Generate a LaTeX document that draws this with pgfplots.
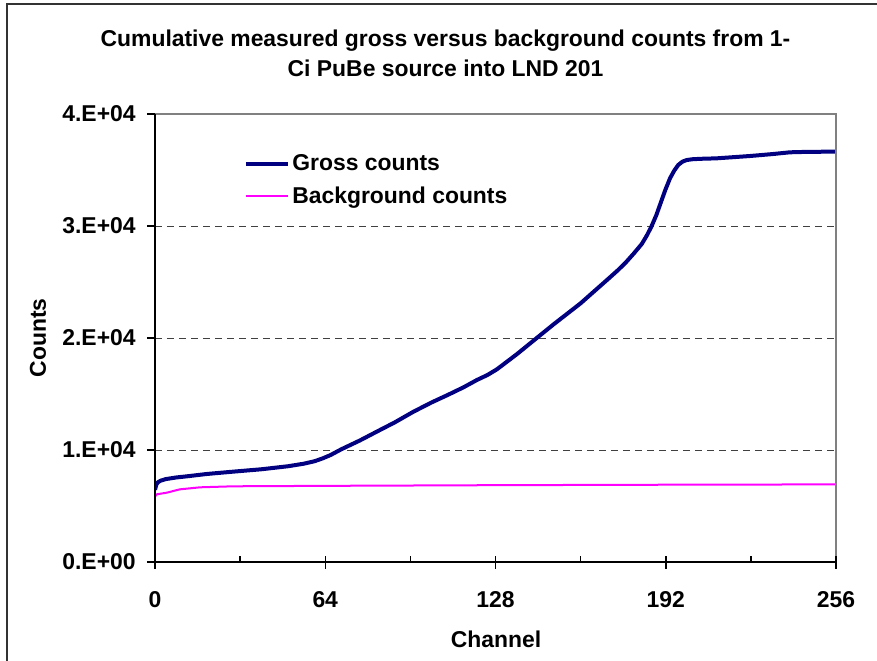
\documentclass[border=0pt]{standalone}
\usepackage{fontspec}
\setmainfont{Liberation Sans}
\usepackage{pgfplots}
\pgfplotsset{compat=1.18}
\newcommand\lf{\fontsize{11.45}{13.7}\selectfont\bfseries}
\definecolor{grossc}{HTML}{000080}
\definecolor{bgc}{HTML}{FF00FF}
\begin{document}
\begin{tikzpicture}
\useasboundingbox (-77.5pt,-49pt) rectangle (361pt,281pt);
\begin{axis}[
  at={(0pt,0pt)}, anchor=south west,
  scale only axis, width=340.5pt, height=224pt,
  xmin=0, xmax=256, ymin=0, ymax=40000,
  xtick={0,64,128,192,256}, xticklabels={0,64,128,192,256},
  ytick={0,10000,20000,30000,40000},
  yticklabels={0.E+00,1.E+04,2.E+04,3.E+04,4.E+04},
  scaled y ticks=false,
  major tick length=0pt,
  axis line style={draw=none},
  /pgf/number format/assume math mode=true,
  ticklabel style={font=\lf},
  xticklabel style={anchor=base, inner sep=0pt, yshift=-22.5pt},
  yticklabel style={anchor=east, inner sep=0pt, xshift=-9.5pt},
  extra y ticks={10000,20000,30000}, extra y tick labels={},
  extra y tick style={grid=major},
  grid style={black!75, dash pattern=on 3.5pt off 2.5pt, line width=0.5pt},
  legend cell align=left,
  legend style={draw=none, fill=none, at={(0.1300,0.8516)}, anchor=west,
    font=\lf, inner sep=0pt, row sep=4pt, nodes={inner sep=1.2pt}},
  legend image code/.code={\draw[#1, line cap=butt] (0pt,0pt) -- (21pt,0pt);},
]
\addplot[grossc, line width=2pt, line join=round] coordinates {
(0,6450) (0.5,6900) (1,7100) (2,7250) (4,7400) (8,7550) (12,7650)
(19.5,7860) (30,8080) (40,8280) (50,8550) (56,8780) (60,9000) (63,9250)
(66,9550) (70,10060) (77,10850) (84.6,11790) (90,12450) (97,13400)
(104,14250) (110,14910) (116,15600) (121,16250) (125,16700) (128.5,17200)
(136,18550) (143.5,20000) (150,21250) (160,23100) (165,24150) (170,25200)
(174,26050) (177,26750) (180,27550) (183,28400) (185,29200) (186.7,30000)
(188.5,31000) (190,32000) (191.8,33200) (193.6,34260) (195.2,34950)
(196.7,35450) (198.3,35750) (199.9,35890) (202,35960) (205,36000)
(211,36040) (223.7,36250) (232,36420) (238.7,36580) (245,36620) (256,36640)
};
\addlegendentry{Gross counts}
\addplot[bgc, line width=1pt] coordinates {
(0,5830) (0.6,6040) (4.4,6190) (9.4,6490) (17,6670) (29.4,6760)
(64,6800) (128,6860) (192,6900) (256,6930)
};
\addlegendentry{Background counts}
\end{axis}
% plot area border and axes
\draw[black!50, line width=0.75pt] (0pt,224pt) -- (340.5pt,224pt) -- (340.5pt,0pt);
\draw[black, line width=0.75pt] (0pt,224pt) -- (0pt,0pt) -- (340.5pt,0pt);
\foreach \y in {0,56,112,168,224} \draw[black, line width=0.75pt] (-4pt,\y pt) -- (0pt,\y pt);
\foreach \x in {0,85.125,170.25,255.375,340.5} \draw[black, line width=0.75pt] (\x pt,3pt) -- (\x pt,-3.5pt);
\foreach \x in {42.5625,127.6875,212.8125,297.9375} \draw[black, line width=0.75pt] (\x pt,3pt) -- (\x pt,0pt);
% titles
\node[font=\lf, anchor=base] at (145.25pt,257.5pt) {Cumulative measured gross versus background counts from 1-};
\node[font=\lf, anchor=base] at (145.25pt,242.5pt) {Ci PuBe source into LND 201};
\node[font=\lf, anchor=base] at (170.5pt,-42.5pt) {Channel};
\node[font=\lf, rotate=90] at (-58.5pt,112pt) {Counts};
% outer chart frame
\draw[black!80, line width=0.75pt] (-74pt,-60pt) -- (-74pt,279pt) -- (370pt,279pt);
\end{tikzpicture}
\end{document}
